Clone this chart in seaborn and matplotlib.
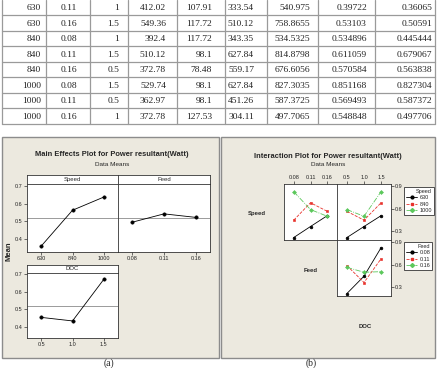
"""
Rebuild of the L9 table plus Minitab main-effects / interaction figure.
"""

import matplotlib
matplotlib.use("Agg")
import matplotlib.pyplot as plt
from matplotlib import font_manager as fm
from matplotlib.lines import Line2D
from matplotlib.patches import Rectangle
import pandas as pd
import seaborn as sns

# ---- data -----------------------------------------------------------------
speed = [630, 630, 630, 840, 840, 840, 1000, 1000, 1000]
feed = [0.08, 0.11, 0.16, 0.08, 0.11, 0.16, 0.08, 0.11, 0.16]
doc = [0.5, 1.0, 1.5, 1.0, 1.5, 0.5, 1.5, 0.5, 1.0]
# power resultant response (first run, others from the table)
response = [0.213, 0.36065, 0.50591, 0.445444, 0.679067, 0.563838,
            0.827304, 0.587372, 0.497706]

speed_levels = [630, 840, 1000]
feed_levels = [0.08, 0.11, 0.16]
doc_levels = [0.5, 1.0, 1.5]
speed_labels = ["630", "840", "1000"]
feed_labels = ["0.08", "0.11", "0.16"]
doc_labels = ["0.5", "1.0", "1.5"]

# table text (runs 2..9 are visible)
tab_speed = ["630", "630", "840", "840", "840", "1000", "1000", "1000"]
tab_feed = ["0.11", "0.16", "0.08", "0.11", "0.16", "0.08", "0.11", "0.16"]
tab_doc = ["1", "1.5", "1", "1.5", "0.5", "1.5", "0.5", "1"]
tab_fx = ["412.02", "549.36", "392.4", "510.12", "372.78", "529.74", "362.97", "372.78"]
tab_fy = ["107.91", "117.72", "117.72", "98.1", "78.48", "98.1", "98.1", "127.53"]
tab_fz = ["333.54", "510.12", "343.35", "627.84", "559.17", "627.84", "451.26", "304.11"]
tab_fr = ["540.975", "758.8655", "534.5325", "814.8798", "676.6056", "827.3035",
          "587.3725", "497.7065"]
tab_p1 = ["0.39722", "0.53103", "0.534896", "0.611059", "0.570584", "0.851168",
          "0.569493", "0.548848"]
tab_p2 = ["0.36065", "0.50591", "0.445444", "0.679067", "0.563838", "0.827304",
          "0.587372", "0.497706"]

df = pd.DataFrame({"Speed": speed, "Feed": feed, "DOC": doc, "Power": response})

# ---- style ----------------------------------------------------------------
sns.set_style("white")
names = {f.name for f in fm.fontManager.ttflist}
NARROW = "Liberation Sans Narrow" if "Liberation Sans Narrow" in names else "Liberation Sans"
plt.rcParams["font.family"] = [NARROW, "DejaVu Sans"]

W, H = 437, 368
BEIGE = "#ECE9DF"
EDGE = "#8C8C8C"
COLS = ["black", "#E8322C", "#5CC85C"]
MARKS = ["o", "s", "D"]
LINES = ["-", "--", "-."]

fig = plt.figure(figsize=(W / 100, H / 100), dpi=100)
fig.patch.set_facecolor("white")


def px_axes(x0, y0, x1, y1):
    return fig.add_axes([x0 / W, 1 - y1 / H, (x1 - x0) / W, (y1 - y0) / H])


# background layer in pixel coordinates
bg = fig.add_axes([0, 0, 1, 1])
bg.set_xlim(0, W)
bg.set_ylim(H, 0)
bg.axis("off")

# ---- table ----------------------------------------------------------------
top, row_h = -0.5, 15.5
col_lines = [2, 46, 90, 128, 177, 225, 267, 318, 375, 435]
right_edges = [41, 77, 119, 166, 212, 254, 310, 367, 432]
n_rows = len(tab_speed)
bottom = top + n_rows * row_h
for k in range(1, n_rows + 1):
    bg.plot([col_lines[0], col_lines[-1]], [top + k * row_h] * 2, color="#9A9A9A", lw=0.9)
for x in col_lines:
    bg.plot([x, x], [top, bottom], color="#9A9A9A", lw=0.9)
columns = [tab_speed, tab_feed, tab_doc, tab_fx, tab_fy, tab_fz, tab_fr, tab_p1, tab_p2]
for ci, col in enumerate(columns):
    for ri, val in enumerate(col):
        bg.text(right_edges[ci], top + (ri + 0.55) * row_h, val, ha="right", va="center",
                fontsize=6.8, family="Liberation Serif", color="#222222")

# ---- panel frames ---------------------------------------------------------
for x0, x1 in [(2, 219), (221, 435)]:
    bg.add_patch(Rectangle((x0, 137), x1 - x0, 221, facecolor=BEIGE, edgecolor=EDGE, lw=1))
bg.text(109, 363, "(a)", ha="center", va="center", fontsize=7, family="Liberation Serif")
bg.text(311, 363, "(b)", ha="center", va="center", fontsize=7, family="Liberation Serif")

tick_kw = dict(labelsize=4, length=2, width=0.5, pad=1.0, color="#333333")


def frame(ax):
    for s in ax.spines.values():
        s.set_color("#333333")
        s.set_linewidth(0.6)


# ---- (a) main effects -----------------------------------------------------
bg.text(112, 154, "Main Effects Plot for Power resultant(Watt)", ha="center", va="center",
        fontsize=5.4, fontweight="bold")
bg.text(112, 164, "Data Means", ha="center", va="center", fontsize=4.6)
bg.text(9, 251, "Mean", ha="center", va="center", rotation=90, fontsize=5.5, fontweight="bold")

grand_mean = df["Power"].mean()
main = [
    ("Speed", speed_levels, speed_labels, (27, 175, 118, 184, 252), True),
    ("Feed", feed_levels, feed_labels, (118, 175, 210, 184, 252), False),
    ("DOC", doc_levels, doc_labels, (27, 265, 118, 273, 338), True),
]
for name, levels, labels, (x0, ys, x1, y0, y1), show_y in main:
    strip = px_axes(x0, ys, x1, y0)
    strip.set_facecolor("white")
    strip.set_xticks([])
    strip.set_yticks([])
    frame(strip)
    strip.text(0.5, 0.5, name, ha="center", va="center", fontsize=4.3, transform=strip.transAxes)

    ax = px_axes(x0, y0, x1, y1)
    ax.set_facecolor("white")
    ax.axhline(grand_mean, color="#8A8A8A", lw=0.6, zorder=0)
    sns.pointplot(data=df, x=name, y="Power", order=levels, errorbar=None, color="black",
                  markers="o", markersize=2.4, linewidth=0.6, ax=ax)
    ax.set_xlim(-0.45, 2.45)
    if name == "DOC":
        ax.set_ylim(0.338, 0.706)
    else:
        ax.set_ylim(0.327, 0.711)
    ax.set_xticks(range(3))
    ax.set_xticklabels(labels)
    ax.set_xlabel("")
    ax.set_ylabel("")
    if show_y:
        ax.set_yticks([0.4, 0.5, 0.6, 0.7])
        ax.set_yticklabels(["0.4", "0.5", "0.6", "0.7"])
    else:
        ax.set_yticks([])
    ax.tick_params(axis="both", direction="out", left=show_y, bottom=True, **tick_kw)
    frame(ax)

# ---- (b) interaction ------------------------------------------------------
bg.text(328, 156, "Interaction Plot for Power resultant(Watt)", ha="center", va="center",
        fontsize=5.4, fontweight="bold")
bg.text(328, 165, "Data Means", ha="center", va="center", fontsize=4.6)
bg.text(257, 213, "Speed", ha="center", va="center", fontsize=4.3, fontweight="bold")
bg.text(311, 270, "Feed", ha="center", va="center", fontsize=4.3, fontweight="bold")
bg.text(365, 327, "DOC", ha="center", va="center", fontsize=4.3, fontweight="bold")

inter = [
    ("Feed", feed_levels, feed_labels, "Speed", speed_levels, (284, 184, 337, 240), "top"),
    ("DOC", doc_levels, doc_labels, "Speed", speed_levels, (337, 184, 391, 240), "topright"),
    ("DOC", doc_levels, doc_labels, "Feed", feed_levels, (337, 240, 391, 296), "right"),
]
for xname, xlev, xlab, hname, hlev, (x0, y0, x1, y1), where in inter:
    ax = px_axes(x0, y0, x1, y1)
    ax.set_facecolor("white")
    sns.pointplot(data=df, x=xname, y="Power", hue=hname, order=xlev, hue_order=hlev,
                  palette=COLS, markers=MARKS, linestyles=LINES, errorbar=None,
                  dodge=False, markersize=2.0, linewidth=0.6, ax=ax)
    if ax.get_legend() is not None:
        ax.get_legend().remove()
    ax.set_xlim(-0.58, 2.58)
    ax.set_ylim(0.18, 0.93)
    ax.set_xlabel("")
    ax.set_ylabel("")
    ax.set_xticks(range(3))
    ax.set_xticklabels(xlab)
    ax.set_yticks([0.3, 0.6, 0.9])
    ax.set_yticklabels(["0.3", "0.6", "0.9"])
    show_top = "top" in where
    show_right = "right" in where
    ax.xaxis.set_ticks_position("top")
    ax.yaxis.set_ticks_position("right")
    ax.tick_params(axis="x", direction="out", top=show_top, bottom=False,
                   labeltop=show_top, labelbottom=False, **tick_kw)
    ax.tick_params(axis="y", direction="out", right=show_right, left=False,
                   labelright=show_right, labelleft=False, **tick_kw)
    frame(ax)

# legends
for title, labels, ytop in [("Speed", speed_labels, 187), ("Feed", feed_labels, 242)]:
    handles = [Line2D([], [], color=c, marker=m, ls=l, lw=0.6, markersize=2.0)
               for c, m, l in zip(COLS, MARKS, LINES)]
    leg = fig.legend(handles, labels, title=title, loc="upper left",
                     bbox_to_anchor=(404 / W, 1 - ytop / H), fontsize=4, title_fontsize=4,
                     frameon=True, fancybox=False, edgecolor="#333333", framealpha=1,
                     handlelength=2.0, handletextpad=0.4, borderpad=0.35, labelspacing=0.25,
                     borderaxespad=0, alignment="right")
    leg.get_frame().set_linewidth(0.6)

fig.savefig("out.png", dpi=100)
